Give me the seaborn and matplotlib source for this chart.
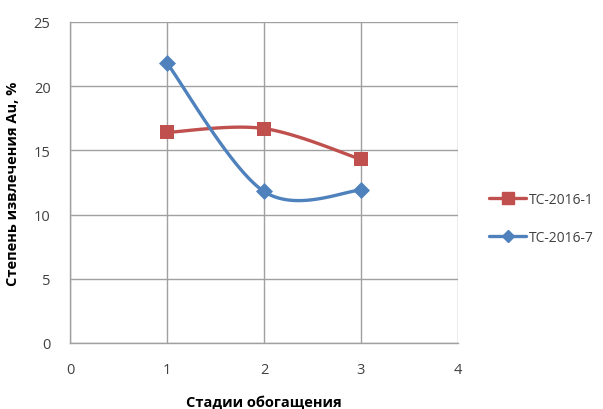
import numpy as np
import pandas as pd
import matplotlib
matplotlib.use("Agg")
import matplotlib.pyplot as plt
from matplotlib.lines import Line2D
import seaborn as sns

# Enrichment stages and gold recovery per sample
stages = [1, 2, 3]
tc_2016_1 = [16.4, 16.7, 14.3]
tc_2016_7 = [21.8, 11.8, 11.9]
series_names = ["TC-2016-1", "TC-2016-7"]
x_ticks = [0, 1, 2, 3, 4]
y_ticks = [0, 5, 10, 15, 20, 25]

RED = "#C0504D"
BLUE = "#4F81BD"
GRID = "#A0A0A0"


def smooth_curve(xs, ys, steps=40):
    """Catmull-Rom style Bezier smoothing through the given points."""
    pts = np.column_stack([xs, ys]).astype(float)
    n = len(pts)
    out = []
    t = np.linspace(0, 1, steps)
    for i in range(n - 1):
        p0 = pts[max(i - 1, 0)]
        p1 = pts[i]
        p2 = pts[i + 1]
        p3 = pts[min(i + 2, n - 1)]
        c1 = p1 + (p2 - p0) / 6.0
        c2 = p2 - (p3 - p1) / 6.0
        seg = ((1 - t) ** 3)[:, None] * p1 + (3 * (1 - t) ** 2 * t)[:, None] * c1 \
            + (3 * (1 - t) * t ** 2)[:, None] * c2 + (t ** 3)[:, None] * p2
        out.append(seg if i == 0 else seg[1:])
    seg = np.vstack(out)
    return seg[:, 0], seg[:, 1]


sns.set_theme(style="white")
plt.rcParams["font.family"] = ["Open Sans", "DejaVu Sans"]

fig = plt.figure(figsize=(6.03, 4.10), dpi=100)
ax = fig.add_axes([0.116, 0.161, 0.6435, 0.783])

points = pd.DataFrame({
    "stage": stages * 2,
    "value": tc_2016_1 + tc_2016_7,
    "series": [series_names[0]] * 3 + [series_names[1]] * 3,
})

colors = {series_names[0]: RED, series_names[1]: BLUE}
markers = {series_names[0]: "s", series_names[1]: "D"}
msizes = {series_names[0]: 110, series_names[1]: 75}

for name, vals in zip(series_names, [tc_2016_1, tc_2016_7]):
    cx, cy = smooth_curve(stages, vals)
    curve = pd.DataFrame({"x": cx, "y": cy})
    sns.lineplot(data=curve, x="x", y="y", sort=False, color=colors[name],
                 linewidth=2.4, ax=ax, legend=False, zorder=3)
    sub = points[points["series"] == name]
    sns.scatterplot(data=sub, x="stage", y="value", color=colors[name],
                    marker=markers[name], s=msizes[name], linewidth=0,
                    ax=ax, legend=False, zorder=4)

ax.set_xlim(0, 4)
ax.set_ylim(0, 25)
ax.set_xticks(x_ticks)
ax.set_yticks(y_ticks)
ax.grid(True, color=GRID, linewidth=1.0)
ax.set_axisbelow(True)
for side in ["top", "right"]:
    ax.spines[side].set_visible(False)
for side in ["left", "bottom"]:
    ax.spines[side].set_color(GRID)
    ax.spines[side].set_linewidth(1.0)
ax.tick_params(axis="both", which="major", length=5, width=1.0, color=GRID,
               labelsize=10.5, labelcolor="#404040", direction="out")
ax.tick_params(axis="x", pad=9)
ax.tick_params(axis="y", pad=9)

ax.set_xlabel("Стадии обогащения", fontsize=10.5, fontweight="bold",
              color="black", labelpad=12)
ax.set_ylabel("Степень извлечения Au, %", fontsize=10.5, fontweight="bold",
              color="black", labelpad=10)

handles = [
    Line2D([0], [0], color=RED, linewidth=2.4, marker="s", markersize=9),
    Line2D([0], [0], color=BLUE, linewidth=2.4, marker="D", markersize=6.5),
]
fig.legend(handles, series_names, loc="center left",
           bbox_to_anchor=(0.790, 0.465), frameon=False, fontsize=10,
           handlelength=2.7, handletextpad=0.15, labelspacing=1.7,
           labelcolor="#404040")

fig.savefig("out.png", dpi=100)
